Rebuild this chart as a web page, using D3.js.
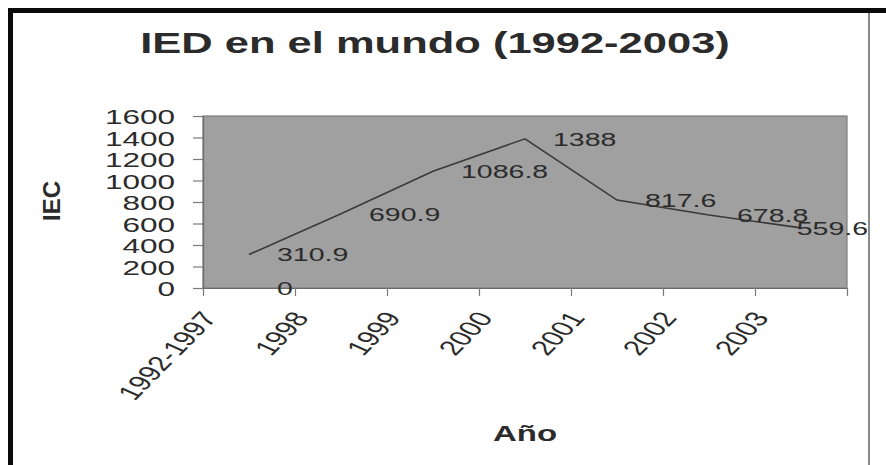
<!DOCTYPE html>
<html>
<head>
<meta charset="utf-8">
<script src="https://cdn.jsdelivr.net/npm/d3@7"></script>
<style>
  html, body { margin: 0; padding: 0; background: #fff; }
  svg { display: block; }
  text { font-family: "Liberation Sans", Arial, sans-serif; fill: #2b2b2b; }
</style>
</head>
<body>
<script>
// Data
const categories = ['1992-1997', '1998', '1999', '2000', '2001', '2002', '2003'];
const iedValues = [310.9, 690.9, 1086.8, 1388, 817.6, 678.8, 559.6];
// stray "0" label sitting on the axis at the first category
const zeroLabelValues = [0];
const yTicks = [0, 200, 400, 600, 800, 1000, 1200, 1400, 1600];

const W = 886, H = 465;
// the source picture is stretched horizontally, so the text is too
const SX = 1.5;

const plot = { left: 203, right: 847, top: 116, bottom: 288 };

const svg = d3.select('body').append('svg')
  .attr('width', W)
  .attr('height', H)
  .attr('xmlns', 'http://www.w3.org/2000/svg');

// Outer chart frame: heavy black top/left, thin gray right
svg.append('rect').attr('x', 8).attr('y', 8).attr('width', W - 8).attr('height', 5).attr('fill', '#0a0a0a');
svg.append('rect').attr('x', 8).attr('y', 8).attr('width', 5).attr('height', H - 8).attr('fill', '#0a0a0a');
svg.append('rect').attr('x', 868).attr('y', 13).attr('width', 2).attr('height', H - 13).attr('fill', '#8a8a8a');

// Scales: linear index scale so ticks fall on category boundaries
const x = d3.scaleLinear()
  .domain([0, categories.length])
  .range([plot.left, plot.right]);

const y = d3.scaleLinear()
  .domain([0, 1600])
  .range([plot.bottom, plot.top]);

// Plot area
svg.append('rect')
  .attr('x', plot.left)
  .attr('y', plot.top)
  .attr('width', plot.right - plot.left)
  .attr('height', plot.bottom - plot.top)
  .attr('fill', '#a0a0a0')
  .attr('stroke', '#7d7d7d')
  .attr('stroke-width', 1.2);

// Y axis
const yAxis = svg.append('g')
  .attr('transform', `translate(${plot.left},0)`)
  .call(d3.axisLeft(y).tickValues(yTicks).tickSize(10).tickSizeOuter(0).tickFormat(d3.format('d')));
yAxis.select('.domain').attr('stroke', '#6a6a6a').attr('stroke-width', 1.2);
yAxis.selectAll('line').attr('stroke', '#7a7a7a').attr('stroke-width', 1.2);
yAxis.selectAll('text')
  .attr('x', -28 / SX)
  .attr('dy', '0.36em')
  .attr('transform', `scale(${SX},1)`)
  .style('font-size', '21px')
  .style('fill', '#2b2b2b');

// X axis (ticks only, labels drawn rotated below)
const xAxis = svg.append('g')
  .attr('transform', `translate(0,${plot.bottom})`)
  .call(d3.axisBottom(x).tickValues(d3.range(categories.length + 1)).tickSize(8).tickSizeOuter(0).tickFormat(''));
xAxis.select('.domain').attr('stroke', '#6a6a6a').attr('stroke-width', 1.2);
xAxis.selectAll('line').attr('stroke', '#7a7a7a').attr('stroke-width', 1.2);

// rotated then stretched, like the source image
svg.append('g').selectAll('text')
  .data(categories)
  .join('text')
  .attr('transform', (d, i) => `translate(${x(i) + 15},318) scale(${SX},1) rotate(-56.3)`)
  .attr('text-anchor', 'end')
  .style('font-size', '21px')
  .text(d => d);

// Line (points at band centres)
const line = d3.line()
  .x((d, i) => x(i + 0.5))
  .y(d => y(d));

svg.append('path')
  .datum(iedValues)
  .attr('fill', 'none')
  .attr('stroke', '#3a3a3a')
  .attr('stroke-width', 1.6)
  .attr('d', line);

// Data labels, shifted right of each point, kept inside the frame
function addLabels(values) {
  const g = svg.append('g');
  values.forEach((v, i) => {
    const t = g.append('text')
      .attr('dy', '0.36em')
      .style('font-size', '19px')
      .text(String(v));
    const w = t.node().getComputedTextLength() * SX;
    const lx = Math.min(x(i + 0.5) + 28, 868 - w);
    t.attr('transform', `translate(${lx},${y(v)}) scale(${SX},1)`);
  });
}
addLabels(iedValues);
addLabels(zeroLabelValues);

// Title
svg.append('text')
  .attr('transform', `translate(435,53) scale(${SX},1)`)
  .attr('text-anchor', 'middle')
  .style('font-size', '29px')
  .style('font-weight', 'bold')
  .text('IED en el mundo (1992-2003)');

// Axis titles
svg.append('text')
  .attr('transform', `translate(525,441) scale(${SX},1)`)
  .attr('text-anchor', 'middle')
  .style('font-size', '22px')
  .style('font-weight', 'bold')
  .text('Año');

svg.append('text')
  .attr('transform', 'translate(60,201) rotate(-90)')
  .attr('text-anchor', 'middle')
  .style('font-size', '24px')
  .style('font-weight', 'bold')
  .text('IEC');
</script>
</body>
</html>
